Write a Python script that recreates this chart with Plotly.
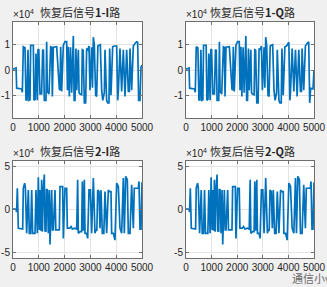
import plotly.graph_objects as go

# ---------------- data (units of 1e4) ----------------
x_1i = [0, 120, 142, 330, 362, 400, 465, 504, 545, 581, 620, 659, 685, 788, 814, 860, 891, 915, 943, 969,
        1000, 1047, 1110, 1150, 1180, 1214, 1279, 1305, 1331, 1395, 1460, 1499, 1525, 1563, 1650, 1693, 1796,
        1820, 1848, 1886, 1951, 2015, 2080, 2110, 2145, 2183, 2230, 2274, 2338, 2370, 2403, 2440, 2470, 2532,
        2560, 2597, 2661, 2687, 2720, 2765, 2816, 2855, 2900, 2946, 2984, 3049, 3080, 3114, 3152, 3204, 3243,
        3290, 3333, 3385, 3437, 3480, 3540, 3566, 3630, 3669, 3720, 3747, 3798, 3863, 3928, 4018, 4057, 4083,
        4147, 4212, 4276, 4341, 4406, 4470, 4510, 4535, 4599, 4664, 4729, 4793, 4832, 4870, 4922, 4961, 5000]
y_1i = [0.03, 0.08, -0.72, -0.75, -0.88, 0.92, 0.88, -1.18, -1.18, 0.8, -1.2, -1.18, 0.98, 0.98, -1.2, -1.15,
        0.65, -1.2, -1.2, 0.8, 0.82, -0.95, -0.95, 0.8, 0.78, -1.2, -1.2, 1.12, -0.85, -0.95, 0.92, 0.9, -1.05,
        0.9, 0.9, 0.92, -0.75, -0.8, 0.92, -0.85, 0.98, 1.12, 1.12, -0.8, 0.92, -1.05, 0.9, -0.9, 1.35, -1.2,
        -1.2, 0.85, -0.8, 0.8, -0.9, -0.95, -0.98, 0.8, 0.78, -1.3, -1.3, 0.85, 0.8, 0.95, -0.8, 0.9, -0.7,
        1.3, 0.98, -1.0, -1.05, 0.95, 0.98, 1.0, -0.8, -1.2, -0.9, 0.8, -1.2, -1.3, -1.3, 0.85, -1.0, 0.92,
        0.95, 0.95, -1.2, -0.85, 0.85, -0.85, 0.8, -1.05, 0.8, -0.85, -0.85, 0.85, -0.8, 0.95, 1.05, 1.12,
        1.1, -1.2, -1.2, 0.1, 0.2]

x_1q = [0, 120, 142, 330, 362, 400, 465, 504, 545, 581, 620, 659, 685, 788, 814, 860, 891, 915, 943, 969,
        1000, 1047, 1110, 1150, 1180, 1214, 1279, 1305, 1331, 1395, 1460, 1499, 1525, 1563, 1650, 1693, 1796,
        1820, 1848, 1886, 1951, 2015, 2080, 2110, 2145, 2183, 2230, 2274, 2338, 2370, 2403, 2440, 2470, 2532,
        2560, 2597, 2661, 2687, 2720, 2765, 2816, 2855, 2900, 2946, 2984, 3049, 3080, 3114, 3152, 3204, 3243,
        3290, 3333, 3385, 3437, 3480, 3540, 3566, 3630, 3669, 3720, 3747, 3798, 3863, 3928, 4018, 4057, 4083,
        4147, 4212, 4276, 4341, 4406, 4470, 4510, 4535, 4599, 4664, 4729, 4793, 4832, 4870, 4961, 5000]
y_1q = [0.03, 0.08, -0.72, -0.75, -0.88, 0.92, 0.88, -1.18, -1.18, 0.8, -1.2, -1.18, 0.98, 0.98, -1.2, -1.15,
        0.65, -1.2, -1.2, 0.8, 0.82, -0.95, -0.95, 0.8, 0.78, -1.2, -1.2, 1.12, -0.85, -0.95, 0.92, 0.9, -1.05,
        0.9, 0.9, 0.92, -0.75, -0.8, 0.92, -0.85, 0.98, 1.12, 1.12, -0.8, 0.92, -1.05, 0.9, -0.9, 1.35, -1.2,
        -1.2, 0.85, -0.8, 0.8, -0.9, -0.95, -0.98, 0.8, 0.78, -1.3, -1.3, 0.85, 0.8, 0.95, -0.8, 0.9, -0.7,
        1.3, 0.98, -1.0, -1.05, 0.95, 0.98, 1.0, -0.8, -1.2, -0.9, 0.8, -1.2, -1.3, -1.3, 0.85, -1.0, 0.92,
        0.95, 1.1, -1.2, -0.85, 0.85, -0.85, 0.8, -1.05, 0.8, -0.85, -0.85, 0.85, -0.8, 0.95, 1.05, 1.12,
        -1.3, -0.72, -0.75, 0.0]

x_2i = [0, 116, 140, 168, 207, 300, 375, 400, 452, 480, 530, 594, 633, 685, 724, 762, 853, 891, 943, 982,
        1021, 1047, 1080, 1111, 1140, 1176, 1214, 1240, 1279, 1300, 1331, 1369, 1408, 1434, 1499, 1530, 1563,
        1628, 1660, 1693, 1796, 1822, 1925, 1951, 2015, 2080, 2106, 2200, 2250, 2300, 2400, 2470, 2506, 2532,
        2597, 2661, 2687, 2730, 2765, 2791, 2855, 2894, 2946, 3000, 3049, 3114, 3178, 3204, 3250, 3282, 3333,
        3372, 3411, 3462, 3520, 3566, 3630, 3695, 3740, 3798, 3824, 3889, 3953, 4018, 4083, 4147, 4212, 4276,
        4315, 4367, 4431, 4470, 4535, 4599, 4664, 4700, 4729, 4858, 4884, 4922, 4960, 5000]
y_2i = [0.05, 0.05, -0.3, 2.5, -2.2, -2.3, -2.3, 2.5, 3.1, 2.6, -2.8, 2.3, -2.8, -2.8, 2.3, -2.8, -2.8, 2.3,
        -2.8, 3.8, -2.4, 2.3, -2.5, 3.5, -2.6, 2.4, 4.1, -2.5, -2.6, 2.4, 2.3, -2.8, 2.3, -4.1, 2.3, -2.4,
        -2.4, 2.3, -2.4, -2.4, -2.4, 2.7, 2.7, -3.4, 2.5, 2.5, -2.2, -2.2, -2.0, -2.3, -2.2, -2.3, 3.5, -2.8,
        -2.6, -2.6, 3.3, -2.5, 3.5, -2.8, -2.8, -3.4, 2.3, 2.3, -2.8, 3.7, -2.8, -2.4, -2.5, 2.3, 2.1, -2.2,
        2.3, -2.8, -2.8, 2.1, -2.8, 2.3, 2.1, 2.1, -2.8, -2.8, -3.6, 3.1, 2.7, -2.2, -2.8, 3.7, -2.8, 3.9,
        3.5, -2.8, -2.8, 2.9, -2.2, 2.5, 2.5, 2.5, 3.3, -2.3, -2.3, 3.2]

x_2q = list(x_2i)
y_2q = [0.05, 0.05, -0.3, 2.5, -2.2, -2.3, -2.3, 2.5, 3.1, 2.6, -2.8, 2.3, -2.8, -2.8, 2.3, -2.8, -2.8, 2.3,
        -2.8, 3.8, -2.4, 2.3, -2.5, 3.5, -2.6, 2.4, 4.1, -2.5, -2.6, 2.4, 2.3, -2.8, 2.3, -4.1, 2.3, -2.4,
        -2.4, 2.3, -2.4, -2.4, -2.4, 2.7, 2.7, -3.4, 2.5, 2.5, -2.2, -2.2, -2.0, -2.3, -2.2, -2.3, 3.5, -2.8,
        -2.6, -2.6, 3.3, -2.5, 3.5, -2.8, -2.8, -3.4, 2.3, 2.3, -2.8, 3.7, -2.8, -2.4, -2.5, 2.3, 2.1, -2.2,
        2.3, -2.8, -2.8, 2.1, -2.8, 2.3, 2.1, 2.1, -2.8, -2.8, -3.6, 3.1, 2.7, -2.2, -2.8, 3.7, -2.8, 3.9,
        3.5, -2.8, -2.8, 2.9, -2.2, 2.5, 2.5, 2.5, 3.3, -2.3, -2.3, 3.2]

title_heads = ["恢复后信号", "恢复后信号", "恢复后信号", "恢复后信号"]
title_ids = ["1-I", "1-Q", "2-I", "2-Q"]
title_tail = "路"
x_ticks = [0, 1000, 2000, 3000, 4000, 5000]
y_ticks_top = [-1, 0, 1]
y_ticks_bot = [-5, 0, 5]

# ---------------- layout geometry ----------------
W, H = 327, 287
cols = [(13, 142), (186, 314)]
rows = [(22, 118), (161, 258)]

series = [(x_1i, y_1i), (x_1q, y_1q), (x_2i, y_2i), (x_2q, y_2q)]

fig = go.Figure()
layout = dict(width=W, height=H, margin=dict(l=0, r=0, t=0, b=0),
              paper_bgcolor="#F0F0F0", plot_bgcolor="#FFFFFF", showlegend=False)

tickfont = dict(family="Liberation Sans, Arial, sans-serif", size=10, color="#262626")
annotations = []
for i in range(4):
    r, c = divmod(i, 2)
    x0, x1 = cols[c]
    y0, y1 = rows[r]
    xa = "xaxis" if i == 0 else f"xaxis{i+1}"
    ya = "yaxis" if i == 0 else f"yaxis{i+1}"
    xref = "x" if i == 0 else f"x{i+1}"
    yref = "y" if i == 0 else f"y{i+1}"
    xs, ys = series[i]
    fig.add_trace(go.Scatter(x=xs, y=ys, mode="lines", xaxis=xref, yaxis=yref,
                             line=dict(color="#0072BD", width=1.7)))
    common = dict(showgrid=True, gridcolor="#E3E3E3", gridwidth=1, zeroline=False,
                  showline=True, linecolor="#6E6E6E", linewidth=1, mirror="ticks",
                  ticks="inside", ticklen=3, tickcolor="#6E6E6E", tickfont=tickfont,
                  tickangle=0, automargin=False)
    layout[xa] = dict(domain=[x0 / W, x1 / W], anchor=yref, range=[0, 5000],
                      tickvals=x_ticks, ticktext=[str(v) for v in x_ticks], **common)
    yt = y_ticks_top if r == 0 else y_ticks_bot
    yr = [-1.9, 1.9] if r == 0 else [-5.7, 5.7]
    layout[ya] = dict(domain=[1 - y1 / H, 1 - y0 / H], anchor=xref, range=yr,
                      tickvals=yt, ticktext=[str(v) for v in yt], **common)
    # title
    annotations.append(dict(text=title_heads[i] + "<b>" + title_ids[i] + "</b>" + title_tail,
                            xref="paper", yref="paper",
                            x=(x0 + x1) / 2 / W + 2 / W, y=1 - 12 / H - (0 if r == 0 else 139 / H),
                            xanchor="center", yanchor="middle", showarrow=False,
                            font=dict(family="Noto Sans CJK SC", size=11, color="#262626")))
    # exponent
    annotations.append(dict(text="×10<sup>4</sup>", xref="paper", yref="paper",
                            x=(x0 - 1) / W, y=1 - (y0 - 1) / H, xanchor="left", yanchor="bottom",
                            showarrow=False, borderpad=0,
                            font=dict(family="Liberation Sans, Arial", size=10, color="#262626")))

annotations.append(dict(text="通信小v", xref="paper", yref="paper", x=290 / W, y=1 - 278 / H,
                        xanchor="left", yanchor="middle", showarrow=False,
                        font=dict(family="Noto Sans CJK SC", size=11, color="#6a6a6a")))
layout["annotations"] = annotations
fig.update_layout(**layout)
fig.write_html("out.html")
